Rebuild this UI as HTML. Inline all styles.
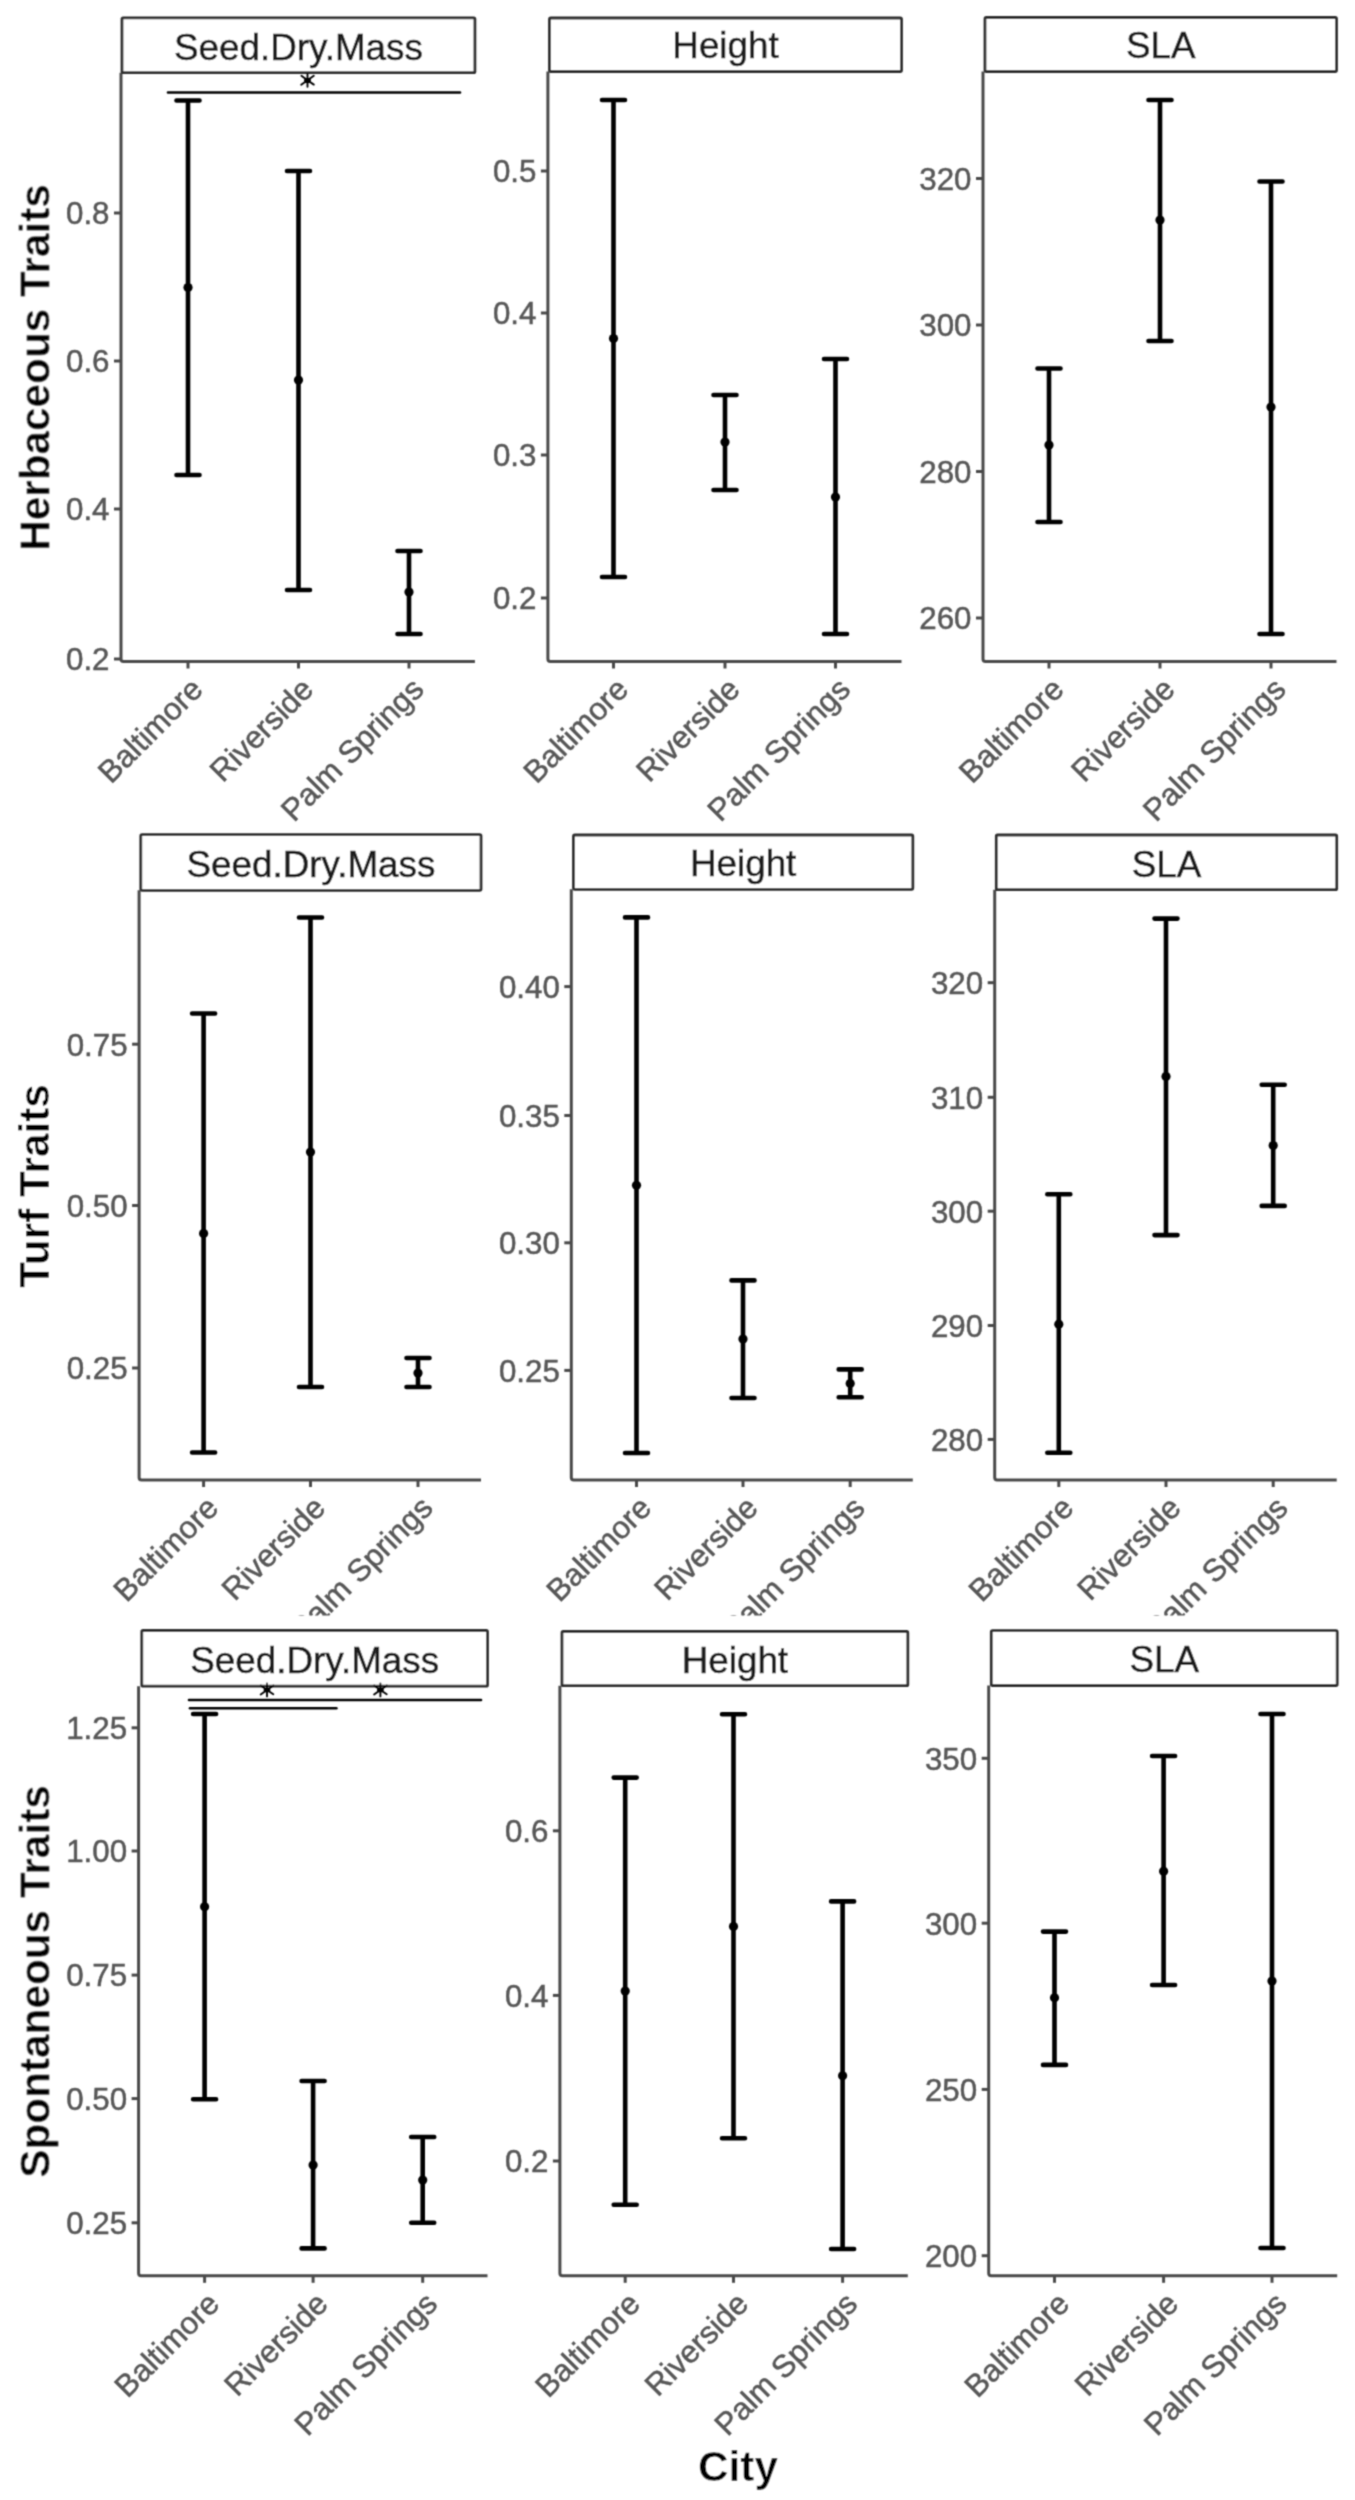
<!DOCTYPE html>
<html><head><meta charset="utf-8"><style>
html,body{margin:0;padding:0;background:#fff;}
body{width:1355px;height:2500px;overflow:hidden;}
svg{display:block;font-family:"Liberation Sans", sans-serif;}
</style></head><body>
<svg width="1355" height="2500" viewBox="0 0 1355 2500"><rect width="1355" height="2500" fill="#fff"/><defs><filter id="soft" x="0" y="0" width="1355" height="2500" filterUnits="userSpaceOnUse"><feConvolveMatrix order="3" kernelMatrix="1 3 1 3 9 3 1 3 1" divisor="25" edgeMode="duplicate"/></filter></defs><g filter="url(#soft)"><defs><clipPath id="row2clip"><rect x="0" y="0" width="1355" height="1615.5"/></clipPath></defs><g><path d="M121,72.7L121,659.0Q121,661.5 123.5,661.5L474.9,661.5" stroke="#4a4a4a" stroke-width="3" fill="none" stroke-linejoin="round"/><line x1="114" y1="213" x2="121" y2="213" stroke="#4a4a4a" stroke-width="3"/><text x="109.5" y="224.3" text-anchor="end" font-size="31.3" fill="#575757" stroke="#575757" stroke-width="0.5">0.8</text><line x1="114" y1="361" x2="121" y2="361" stroke="#4a4a4a" stroke-width="3"/><text x="109.5" y="372.3" text-anchor="end" font-size="31.3" fill="#575757" stroke="#575757" stroke-width="0.5">0.6</text><line x1="114" y1="509" x2="121" y2="509" stroke="#4a4a4a" stroke-width="3"/><text x="109.5" y="520.3" text-anchor="end" font-size="31.3" fill="#575757" stroke="#575757" stroke-width="0.5">0.4</text><line x1="114" y1="659" x2="121" y2="659" stroke="#4a4a4a" stroke-width="3"/><text x="109.5" y="670.3" text-anchor="end" font-size="31.3" fill="#575757" stroke="#575757" stroke-width="0.5">0.2</text><line x1="188" y1="661.5" x2="188" y2="668.5" stroke="#4a4a4a" stroke-width="3"/><g><text x="204.5" y="691.3" text-anchor="end" font-size="31.3" fill="#575757" stroke="#575757" stroke-width="0.5" transform="rotate(-45 204.5 691.3)">Baltimore</text></g><line x1="298.5" y1="661.5" x2="298.5" y2="668.5" stroke="#4a4a4a" stroke-width="3"/><g><text x="315.0" y="691.3" text-anchor="end" font-size="31.3" fill="#575757" stroke="#575757" stroke-width="0.5" transform="rotate(-45 315.0 691.3)">Riverside</text></g><line x1="409" y1="661.5" x2="409" y2="668.5" stroke="#4a4a4a" stroke-width="3"/><g><text x="425.5" y="691.3" text-anchor="end" font-size="31.3" fill="#575757" stroke="#575757" stroke-width="0.5" transform="rotate(-45 425.5 691.3)">Palm Springs</text></g><path d="M188,100.5L188,475M176.5,100.5L199.5,100.5M176.5,475L199.5,475" stroke="#000" stroke-width="4.6" stroke-linecap="round" fill="none"/><circle cx="188" cy="287.5" r="4.6" fill="#000"/><path d="M298.5,171L298.5,590M287.0,171L310.0,171M287.0,590L310.0,590" stroke="#000" stroke-width="4.6" stroke-linecap="round" fill="none"/><circle cx="298.5" cy="380" r="4.6" fill="#000"/><path d="M409,551L409,634M397.5,551L420.5,551M397.5,634L420.5,634" stroke="#000" stroke-width="4.6" stroke-linecap="round" fill="none"/><circle cx="409" cy="592" r="4.6" fill="#000"/><rect x="122" y="17.9" width="352.9" height="54.800000000000004" rx="1.2" fill="#fff" stroke="#2e2e2e" stroke-width="2.8"/><text x="298.45" y="59.5" text-anchor="middle" font-size="36.8" fill="#1a1a1a" stroke="#1a1a1a" stroke-width="0.5">Seed.Dry.Mass</text></g><g><path d="M547.9,71.5L547.9,659.0Q547.9,661.5 550.4,661.5L901.5,661.5" stroke="#4a4a4a" stroke-width="3" fill="none" stroke-linejoin="round"/><line x1="540.9" y1="171" x2="547.9" y2="171" stroke="#4a4a4a" stroke-width="3"/><text x="536.4" y="182.3" text-anchor="end" font-size="31.3" fill="#575757" stroke="#575757" stroke-width="0.5">0.5</text><line x1="540.9" y1="313" x2="547.9" y2="313" stroke="#4a4a4a" stroke-width="3"/><text x="536.4" y="324.3" text-anchor="end" font-size="31.3" fill="#575757" stroke="#575757" stroke-width="0.5">0.4</text><line x1="540.9" y1="455" x2="547.9" y2="455" stroke="#4a4a4a" stroke-width="3"/><text x="536.4" y="466.3" text-anchor="end" font-size="31.3" fill="#575757" stroke="#575757" stroke-width="0.5">0.3</text><line x1="540.9" y1="598" x2="547.9" y2="598" stroke="#4a4a4a" stroke-width="3"/><text x="536.4" y="609.3" text-anchor="end" font-size="31.3" fill="#575757" stroke="#575757" stroke-width="0.5">0.2</text><line x1="613.5" y1="661.5" x2="613.5" y2="668.5" stroke="#4a4a4a" stroke-width="3"/><g><text x="630.0" y="691.3" text-anchor="end" font-size="31.3" fill="#575757" stroke="#575757" stroke-width="0.5" transform="rotate(-45 630.0 691.3)">Baltimore</text></g><line x1="725" y1="661.5" x2="725" y2="668.5" stroke="#4a4a4a" stroke-width="3"/><g><text x="741.5" y="691.3" text-anchor="end" font-size="31.3" fill="#575757" stroke="#575757" stroke-width="0.5" transform="rotate(-45 741.5 691.3)">Riverside</text></g><line x1="835.5" y1="661.5" x2="835.5" y2="668.5" stroke="#4a4a4a" stroke-width="3"/><g><text x="852.0" y="691.3" text-anchor="end" font-size="31.3" fill="#575757" stroke="#575757" stroke-width="0.5" transform="rotate(-45 852.0 691.3)">Palm Springs</text></g><path d="M613.5,100L613.5,577M602.0,100L625.0,100M602.0,577L625.0,577" stroke="#000" stroke-width="4.6" stroke-linecap="round" fill="none"/><circle cx="613.5" cy="338.5" r="4.6" fill="#000"/><path d="M725,395L725,490M713.5,395L736.5,395M713.5,490L736.5,490" stroke="#000" stroke-width="4.6" stroke-linecap="round" fill="none"/><circle cx="725" cy="442" r="4.6" fill="#000"/><path d="M835.5,359L835.5,634M824.0,359L847.0,359M824.0,634L847.0,634" stroke="#000" stroke-width="4.6" stroke-linecap="round" fill="none"/><circle cx="835.5" cy="497" r="4.6" fill="#000"/><rect x="549.5" y="18" width="352.0" height="53.5" rx="1.2" fill="#fff" stroke="#2e2e2e" stroke-width="2.8"/><text x="725.5" y="58.3" text-anchor="middle" font-size="36.8" fill="#1a1a1a" stroke="#1a1a1a" stroke-width="0.5">Height</text></g><g><path d="M983,71.5L983,659.0Q983,661.5 985.5,661.5L1336.5,661.5" stroke="#4a4a4a" stroke-width="3" fill="none" stroke-linejoin="round"/><line x1="976" y1="178.5" x2="983" y2="178.5" stroke="#4a4a4a" stroke-width="3"/><text x="971.5" y="189.8" text-anchor="end" font-size="31.3" fill="#575757" stroke="#575757" stroke-width="0.5">320</text><line x1="976" y1="325" x2="983" y2="325" stroke="#4a4a4a" stroke-width="3"/><text x="971.5" y="336.3" text-anchor="end" font-size="31.3" fill="#575757" stroke="#575757" stroke-width="0.5">300</text><line x1="976" y1="471.5" x2="983" y2="471.5" stroke="#4a4a4a" stroke-width="3"/><text x="971.5" y="482.8" text-anchor="end" font-size="31.3" fill="#575757" stroke="#575757" stroke-width="0.5">280</text><line x1="976" y1="618" x2="983" y2="618" stroke="#4a4a4a" stroke-width="3"/><text x="971.5" y="629.3" text-anchor="end" font-size="31.3" fill="#575757" stroke="#575757" stroke-width="0.5">260</text><line x1="1049" y1="661.5" x2="1049" y2="668.5" stroke="#4a4a4a" stroke-width="3"/><g><text x="1065.5" y="691.3" text-anchor="end" font-size="31.3" fill="#575757" stroke="#575757" stroke-width="0.5" transform="rotate(-45 1065.5 691.3)">Baltimore</text></g><line x1="1160" y1="661.5" x2="1160" y2="668.5" stroke="#4a4a4a" stroke-width="3"/><g><text x="1176.5" y="691.3" text-anchor="end" font-size="31.3" fill="#575757" stroke="#575757" stroke-width="0.5" transform="rotate(-45 1176.5 691.3)">Riverside</text></g><line x1="1271" y1="661.5" x2="1271" y2="668.5" stroke="#4a4a4a" stroke-width="3"/><g><text x="1287.5" y="691.3" text-anchor="end" font-size="31.3" fill="#575757" stroke="#575757" stroke-width="0.5" transform="rotate(-45 1287.5 691.3)">Palm Springs</text></g><path d="M1049,368.5L1049,522M1037.5,368.5L1060.5,368.5M1037.5,522L1060.5,522" stroke="#000" stroke-width="4.6" stroke-linecap="round" fill="none"/><circle cx="1049" cy="445" r="4.6" fill="#000"/><path d="M1160,100L1160,341M1148.5,100L1171.5,100M1148.5,341L1171.5,341" stroke="#000" stroke-width="4.6" stroke-linecap="round" fill="none"/><circle cx="1160" cy="220" r="4.6" fill="#000"/><path d="M1271,181.5L1271,634M1259.5,181.5L1282.5,181.5M1259.5,634L1282.5,634" stroke="#000" stroke-width="4.6" stroke-linecap="round" fill="none"/><circle cx="1271" cy="407" r="4.6" fill="#000"/><rect x="985" y="17.5" width="351.5" height="54.0" rx="1.2" fill="#fff" stroke="#2e2e2e" stroke-width="2.8"/><text x="1160.75" y="58.3" text-anchor="middle" font-size="36.8" fill="#1a1a1a" stroke="#1a1a1a" stroke-width="0.5">SLA</text></g><g><path d="M139.1,890.3L139.1,1477.5Q139.1,1480 141.6,1480L481,1480" stroke="#4a4a4a" stroke-width="3" fill="none" stroke-linejoin="round"/><line x1="132.1" y1="1044.2" x2="139.1" y2="1044.2" stroke="#4a4a4a" stroke-width="3"/><text x="127.6" y="1055.5" text-anchor="end" font-size="31.3" fill="#575757" stroke="#575757" stroke-width="0.5">0.75</text><line x1="132.1" y1="1205.5" x2="139.1" y2="1205.5" stroke="#4a4a4a" stroke-width="3"/><text x="127.6" y="1216.8" text-anchor="end" font-size="31.3" fill="#575757" stroke="#575757" stroke-width="0.5">0.50</text><line x1="132.1" y1="1368" x2="139.1" y2="1368" stroke="#4a4a4a" stroke-width="3"/><text x="127.6" y="1379.3" text-anchor="end" font-size="31.3" fill="#575757" stroke="#575757" stroke-width="0.5">0.25</text><line x1="203.6" y1="1480" x2="203.6" y2="1487" stroke="#4a4a4a" stroke-width="3"/><g clip-path="url(#row2clip)"><text x="220.1" y="1509.8" text-anchor="end" font-size="31.3" fill="#575757" stroke="#575757" stroke-width="0.5" transform="rotate(-45 220.1 1509.8)">Baltimore</text></g><line x1="310.5" y1="1480" x2="310.5" y2="1487" stroke="#4a4a4a" stroke-width="3"/><g clip-path="url(#row2clip)"><text x="327.0" y="1509.8" text-anchor="end" font-size="31.3" fill="#575757" stroke="#575757" stroke-width="0.5" transform="rotate(-45 327.0 1509.8)">Riverside</text></g><line x1="418" y1="1480" x2="418" y2="1487" stroke="#4a4a4a" stroke-width="3"/><g clip-path="url(#row2clip)"><text x="434.5" y="1509.8" text-anchor="end" font-size="31.3" fill="#575757" stroke="#575757" stroke-width="0.5" transform="rotate(-45 434.5 1509.8)">Palm Springs</text></g><path d="M203.6,1013.5L203.6,1452.5M192.1,1013.5L215.1,1013.5M192.1,1452.5L215.1,1452.5" stroke="#000" stroke-width="4.6" stroke-linecap="round" fill="none"/><circle cx="203.6" cy="1233.4" r="4.6" fill="#000"/><path d="M310.5,917.5L310.5,1387M299.0,917.5L322.0,917.5M299.0,1387L322.0,1387" stroke="#000" stroke-width="4.6" stroke-linecap="round" fill="none"/><circle cx="310.5" cy="1152" r="4.6" fill="#000"/><path d="M418,1358L418,1387M406.5,1358L429.5,1358M406.5,1387L429.5,1387" stroke="#000" stroke-width="4.6" stroke-linecap="round" fill="none"/><circle cx="418" cy="1373" r="4.6" fill="#000"/><rect x="140.8" y="834.7" width="340.2" height="55.59999999999991" rx="1.2" fill="#fff" stroke="#2e2e2e" stroke-width="2.8"/><text x="310.9" y="877.0999999999999" text-anchor="middle" font-size="36.8" fill="#1a1a1a" stroke="#1a1a1a" stroke-width="0.5">Seed.Dry.Mass</text></g><g><path d="M571.3,889.3L571.3,1477.5Q571.3,1480 573.8,1480L912.8,1480" stroke="#4a4a4a" stroke-width="3" fill="none" stroke-linejoin="round"/><line x1="564.3" y1="986.6" x2="571.3" y2="986.6" stroke="#4a4a4a" stroke-width="3"/><text x="559.8" y="997.9" text-anchor="end" font-size="31.3" fill="#575757" stroke="#575757" stroke-width="0.5">0.40</text><line x1="564.3" y1="1115.5" x2="571.3" y2="1115.5" stroke="#4a4a4a" stroke-width="3"/><text x="559.8" y="1126.8" text-anchor="end" font-size="31.3" fill="#575757" stroke="#575757" stroke-width="0.5">0.35</text><line x1="564.3" y1="1242.8" x2="571.3" y2="1242.8" stroke="#4a4a4a" stroke-width="3"/><text x="559.8" y="1254.1" text-anchor="end" font-size="31.3" fill="#575757" stroke="#575757" stroke-width="0.5">0.30</text><line x1="564.3" y1="1370.4" x2="571.3" y2="1370.4" stroke="#4a4a4a" stroke-width="3"/><text x="559.8" y="1381.7" text-anchor="end" font-size="31.3" fill="#575757" stroke="#575757" stroke-width="0.5">0.25</text><line x1="636.5" y1="1480" x2="636.5" y2="1487" stroke="#4a4a4a" stroke-width="3"/><g clip-path="url(#row2clip)"><text x="653.0" y="1509.8" text-anchor="end" font-size="31.3" fill="#575757" stroke="#575757" stroke-width="0.5" transform="rotate(-45 653.0 1509.8)">Baltimore</text></g><line x1="743" y1="1480" x2="743" y2="1487" stroke="#4a4a4a" stroke-width="3"/><g clip-path="url(#row2clip)"><text x="759.5" y="1509.8" text-anchor="end" font-size="31.3" fill="#575757" stroke="#575757" stroke-width="0.5" transform="rotate(-45 759.5 1509.8)">Riverside</text></g><line x1="850.2" y1="1480" x2="850.2" y2="1487" stroke="#4a4a4a" stroke-width="3"/><g clip-path="url(#row2clip)"><text x="866.7" y="1509.8" text-anchor="end" font-size="31.3" fill="#575757" stroke="#575757" stroke-width="0.5" transform="rotate(-45 866.7 1509.8)">Palm Springs</text></g><path d="M636.5,917.4L636.5,1453M625.0,917.4L648.0,917.4M625.0,1453L648.0,1453" stroke="#000" stroke-width="4.6" stroke-linecap="round" fill="none"/><circle cx="636.5" cy="1185.3" r="4.6" fill="#000"/><path d="M743,1280.4L743,1398M731.5,1280.4L754.5,1280.4M731.5,1398L754.5,1398" stroke="#000" stroke-width="4.6" stroke-linecap="round" fill="none"/><circle cx="743" cy="1339" r="4.6" fill="#000"/><path d="M850.2,1369.4L850.2,1397.3M838.7,1369.4L861.7,1369.4M838.7,1397.3L861.7,1397.3" stroke="#000" stroke-width="4.6" stroke-linecap="round" fill="none"/><circle cx="850.2" cy="1383.4" r="4.6" fill="#000"/><rect x="573.5" y="835" width="339.29999999999995" height="54.299999999999955" rx="1.2" fill="#fff" stroke="#2e2e2e" stroke-width="2.8"/><text x="743.15" y="876.0999999999999" text-anchor="middle" font-size="36.8" fill="#1a1a1a" stroke="#1a1a1a" stroke-width="0.5">Height</text></g><g><path d="M994.7,889.7L994.7,1477.5Q994.7,1480 997.2,1480L1336.7,1480" stroke="#4a4a4a" stroke-width="3" fill="none" stroke-linejoin="round"/><line x1="987.7" y1="982.7" x2="994.7" y2="982.7" stroke="#4a4a4a" stroke-width="3"/><text x="983.2" y="994.0" text-anchor="end" font-size="31.3" fill="#575757" stroke="#575757" stroke-width="0.5">320</text><line x1="987.7" y1="1097.3" x2="994.7" y2="1097.3" stroke="#4a4a4a" stroke-width="3"/><text x="983.2" y="1108.6" text-anchor="end" font-size="31.3" fill="#575757" stroke="#575757" stroke-width="0.5">310</text><line x1="987.7" y1="1211.2" x2="994.7" y2="1211.2" stroke="#4a4a4a" stroke-width="3"/><text x="983.2" y="1222.5" text-anchor="end" font-size="31.3" fill="#575757" stroke="#575757" stroke-width="0.5">300</text><line x1="987.7" y1="1325.5" x2="994.7" y2="1325.5" stroke="#4a4a4a" stroke-width="3"/><text x="983.2" y="1336.8" text-anchor="end" font-size="31.3" fill="#575757" stroke="#575757" stroke-width="0.5">290</text><line x1="987.7" y1="1439.4" x2="994.7" y2="1439.4" stroke="#4a4a4a" stroke-width="3"/><text x="983.2" y="1450.7" text-anchor="end" font-size="31.3" fill="#575757" stroke="#575757" stroke-width="0.5">280</text><line x1="1058.8" y1="1480" x2="1058.8" y2="1487" stroke="#4a4a4a" stroke-width="3"/><g clip-path="url(#row2clip)"><text x="1075.3" y="1509.8" text-anchor="end" font-size="31.3" fill="#575757" stroke="#575757" stroke-width="0.5" transform="rotate(-45 1075.3 1509.8)">Baltimore</text></g><line x1="1166" y1="1480" x2="1166" y2="1487" stroke="#4a4a4a" stroke-width="3"/><g clip-path="url(#row2clip)"><text x="1182.5" y="1509.8" text-anchor="end" font-size="31.3" fill="#575757" stroke="#575757" stroke-width="0.5" transform="rotate(-45 1182.5 1509.8)">Riverside</text></g><line x1="1273.2" y1="1480" x2="1273.2" y2="1487" stroke="#4a4a4a" stroke-width="3"/><g clip-path="url(#row2clip)"><text x="1289.7" y="1509.8" text-anchor="end" font-size="31.3" fill="#575757" stroke="#575757" stroke-width="0.5" transform="rotate(-45 1289.7 1509.8)">Palm Springs</text></g><path d="M1058.8,1194.3L1058.8,1452.7M1047.3,1194.3L1070.3,1194.3M1047.3,1452.7L1070.3,1452.7" stroke="#000" stroke-width="4.6" stroke-linecap="round" fill="none"/><circle cx="1058.8" cy="1324.2" r="4.6" fill="#000"/><path d="M1166,918.6L1166,1235.1M1154.5,918.6L1177.5,918.6M1154.5,1235.1L1177.5,1235.1" stroke="#000" stroke-width="4.6" stroke-linecap="round" fill="none"/><circle cx="1166" cy="1076.4" r="4.6" fill="#000"/><path d="M1273.2,1084.7L1273.2,1205.9M1261.7,1084.7L1284.7,1084.7M1261.7,1205.9L1284.7,1205.9" stroke="#000" stroke-width="4.6" stroke-linecap="round" fill="none"/><circle cx="1273.2" cy="1145.5" r="4.6" fill="#000"/><rect x="996.3" y="835" width="340.4000000000001" height="54.700000000000045" rx="1.2" fill="#fff" stroke="#2e2e2e" stroke-width="2.8"/><text x="1166.5" y="876.5" text-anchor="middle" font-size="36.8" fill="#1a1a1a" stroke="#1a1a1a" stroke-width="0.5">SLA</text></g><g><path d="M138.6,1686.2L138.6,2273.3Q138.6,2275.8 141.1,2275.8L487.5,2275.8" stroke="#4a4a4a" stroke-width="3" fill="none" stroke-linejoin="round"/><line x1="131.6" y1="1727.8" x2="138.6" y2="1727.8" stroke="#4a4a4a" stroke-width="3"/><text x="127.1" y="1739.1" text-anchor="end" font-size="31.3" fill="#575757" stroke="#575757" stroke-width="0.5">1.25</text><line x1="131.6" y1="1851" x2="138.6" y2="1851" stroke="#4a4a4a" stroke-width="3"/><text x="127.1" y="1862.3" text-anchor="end" font-size="31.3" fill="#575757" stroke="#575757" stroke-width="0.5">1.00</text><line x1="131.6" y1="1975.1" x2="138.6" y2="1975.1" stroke="#4a4a4a" stroke-width="3"/><text x="127.1" y="1986.3999999999999" text-anchor="end" font-size="31.3" fill="#575757" stroke="#575757" stroke-width="0.5">0.75</text><line x1="131.6" y1="2098.6" x2="138.6" y2="2098.6" stroke="#4a4a4a" stroke-width="3"/><text x="127.1" y="2109.9" text-anchor="end" font-size="31.3" fill="#575757" stroke="#575757" stroke-width="0.5">0.50</text><line x1="131.6" y1="2222.8" x2="138.6" y2="2222.8" stroke="#4a4a4a" stroke-width="3"/><text x="127.1" y="2234.1000000000004" text-anchor="end" font-size="31.3" fill="#575757" stroke="#575757" stroke-width="0.5">0.25</text><line x1="204.6" y1="2275.8" x2="204.6" y2="2282.8" stroke="#4a4a4a" stroke-width="3"/><g><text x="221.1" y="2305.6000000000004" text-anchor="end" font-size="31.3" fill="#575757" stroke="#575757" stroke-width="0.5" transform="rotate(-45 221.1 2305.6000000000004)">Baltimore</text></g><line x1="313.1" y1="2275.8" x2="313.1" y2="2282.8" stroke="#4a4a4a" stroke-width="3"/><g><text x="329.6" y="2305.6000000000004" text-anchor="end" font-size="31.3" fill="#575757" stroke="#575757" stroke-width="0.5" transform="rotate(-45 329.6 2305.6000000000004)">Riverside</text></g><line x1="422.7" y1="2275.8" x2="422.7" y2="2282.8" stroke="#4a4a4a" stroke-width="3"/><g><text x="439.2" y="2305.6000000000004" text-anchor="end" font-size="31.3" fill="#575757" stroke="#575757" stroke-width="0.5" transform="rotate(-45 439.2 2305.6000000000004)">Palm Springs</text></g><path d="M204.6,1714L204.6,2099.3M193.1,1714L216.1,1714M193.1,2099.3L216.1,2099.3" stroke="#000" stroke-width="4.6" stroke-linecap="round" fill="none"/><circle cx="204.6" cy="1906.8" r="4.6" fill="#000"/><path d="M313.1,2081L313.1,2248.4M301.6,2081L324.6,2081M301.6,2248.4L324.6,2248.4" stroke="#000" stroke-width="4.6" stroke-linecap="round" fill="none"/><circle cx="313.1" cy="2165" r="4.6" fill="#000"/><path d="M422.7,2137L422.7,2222.8M411.2,2137L434.2,2137M411.2,2222.8L434.2,2222.8" stroke="#000" stroke-width="4.6" stroke-linecap="round" fill="none"/><circle cx="422.7" cy="2180" r="4.6" fill="#000"/><rect x="141.8" y="1630.5" width="345.7" height="55.700000000000045" rx="1.2" fill="#fff" stroke="#2e2e2e" stroke-width="2.8"/><text x="314.65" y="1673.0" text-anchor="middle" font-size="36.8" fill="#1a1a1a" stroke="#1a1a1a" stroke-width="0.5">Seed.Dry.Mass</text></g><g><path d="M559.9,1685.7L559.9,2273.3Q559.9,2275.8 562.4,2275.8L907.8,2275.8" stroke="#4a4a4a" stroke-width="3" fill="none" stroke-linejoin="round"/><line x1="552.9" y1="1830.8" x2="559.9" y2="1830.8" stroke="#4a4a4a" stroke-width="3"/><text x="548.4" y="1842.1" text-anchor="end" font-size="31.3" fill="#575757" stroke="#575757" stroke-width="0.5">0.6</text><line x1="552.9" y1="1995.4" x2="559.9" y2="1995.4" stroke="#4a4a4a" stroke-width="3"/><text x="548.4" y="2006.7" text-anchor="end" font-size="31.3" fill="#575757" stroke="#575757" stroke-width="0.5">0.4</text><line x1="552.9" y1="2161" x2="559.9" y2="2161" stroke="#4a4a4a" stroke-width="3"/><text x="548.4" y="2172.3" text-anchor="end" font-size="31.3" fill="#575757" stroke="#575757" stroke-width="0.5">0.2</text><line x1="625.2" y1="2275.8" x2="625.2" y2="2282.8" stroke="#4a4a4a" stroke-width="3"/><g><text x="641.7" y="2305.6000000000004" text-anchor="end" font-size="31.3" fill="#575757" stroke="#575757" stroke-width="0.5" transform="rotate(-45 641.7 2305.6000000000004)">Baltimore</text></g><line x1="733.5" y1="2275.8" x2="733.5" y2="2282.8" stroke="#4a4a4a" stroke-width="3"/><g><text x="750.0" y="2305.6000000000004" text-anchor="end" font-size="31.3" fill="#575757" stroke="#575757" stroke-width="0.5" transform="rotate(-45 750.0 2305.6000000000004)">Riverside</text></g><line x1="842.6" y1="2275.8" x2="842.6" y2="2282.8" stroke="#4a4a4a" stroke-width="3"/><g><text x="859.1" y="2305.6000000000004" text-anchor="end" font-size="31.3" fill="#575757" stroke="#575757" stroke-width="0.5" transform="rotate(-45 859.1 2305.6000000000004)">Palm Springs</text></g><path d="M625.2,1777.6L625.2,2204.7M613.7,1777.6L636.7,1777.6M613.7,2204.7L636.7,2204.7" stroke="#000" stroke-width="4.6" stroke-linecap="round" fill="none"/><circle cx="625.2" cy="1991.1" r="4.6" fill="#000"/><path d="M733.5,1714.3L733.5,2138.2M722.0,1714.3L745.0,1714.3M722.0,2138.2L745.0,2138.2" stroke="#000" stroke-width="4.6" stroke-linecap="round" fill="none"/><circle cx="733.5" cy="1926.4" r="4.6" fill="#000"/><path d="M842.6,1901.4L842.6,2249M831.1,1901.4L854.1,1901.4M831.1,2249L854.1,2249" stroke="#000" stroke-width="4.6" stroke-linecap="round" fill="none"/><circle cx="842.6" cy="2075.8" r="4.6" fill="#000"/><rect x="562" y="1631.5" width="345.79999999999995" height="54.200000000000045" rx="1.2" fill="#fff" stroke="#2e2e2e" stroke-width="2.8"/><text x="734.9" y="1672.5" text-anchor="middle" font-size="36.8" fill="#1a1a1a" stroke="#1a1a1a" stroke-width="0.5">Height</text></g><g><path d="M988.7,1685.5L988.7,2273.3Q988.7,2275.8 991.2,2275.8L1337.2,2275.8" stroke="#4a4a4a" stroke-width="3" fill="none" stroke-linejoin="round"/><line x1="981.7" y1="1758.3" x2="988.7" y2="1758.3" stroke="#4a4a4a" stroke-width="3"/><text x="977.2" y="1769.6" text-anchor="end" font-size="31.3" fill="#575757" stroke="#575757" stroke-width="0.5">350</text><line x1="981.7" y1="1923.2" x2="988.7" y2="1923.2" stroke="#4a4a4a" stroke-width="3"/><text x="977.2" y="1934.5" text-anchor="end" font-size="31.3" fill="#575757" stroke="#575757" stroke-width="0.5">300</text><line x1="981.7" y1="2089.4" x2="988.7" y2="2089.4" stroke="#4a4a4a" stroke-width="3"/><text x="977.2" y="2100.7000000000003" text-anchor="end" font-size="31.3" fill="#575757" stroke="#575757" stroke-width="0.5">250</text><line x1="981.7" y1="2255.7" x2="988.7" y2="2255.7" stroke="#4a4a4a" stroke-width="3"/><text x="977.2" y="2267.0" text-anchor="end" font-size="31.3" fill="#575757" stroke="#575757" stroke-width="0.5">200</text><line x1="1054.5" y1="2275.8" x2="1054.5" y2="2282.8" stroke="#4a4a4a" stroke-width="3"/><g><text x="1071.0" y="2305.6000000000004" text-anchor="end" font-size="31.3" fill="#575757" stroke="#575757" stroke-width="0.5" transform="rotate(-45 1071.0 2305.6000000000004)">Baltimore</text></g><line x1="1163.6" y1="2275.8" x2="1163.6" y2="2282.8" stroke="#4a4a4a" stroke-width="3"/><g><text x="1180.1" y="2305.6000000000004" text-anchor="end" font-size="31.3" fill="#575757" stroke="#575757" stroke-width="0.5" transform="rotate(-45 1180.1 2305.6000000000004)">Riverside</text></g><line x1="1272" y1="2275.8" x2="1272" y2="2282.8" stroke="#4a4a4a" stroke-width="3"/><g><text x="1288.5" y="2305.6000000000004" text-anchor="end" font-size="31.3" fill="#575757" stroke="#575757" stroke-width="0.5" transform="rotate(-45 1288.5 2305.6000000000004)">Palm Springs</text></g><path d="M1054.5,1931.6L1054.5,2064.9M1043.0,1931.6L1066.0,1931.6M1043.0,2064.9L1066.0,2064.9" stroke="#000" stroke-width="4.6" stroke-linecap="round" fill="none"/><circle cx="1054.5" cy="1997.8" r="4.6" fill="#000"/><path d="M1163.6,1756L1163.6,1985M1152.1,1756L1175.1,1756M1152.1,1985L1175.1,1985" stroke="#000" stroke-width="4.6" stroke-linecap="round" fill="none"/><circle cx="1163.6" cy="1871.2" r="4.6" fill="#000"/><path d="M1272,1714L1272,2248M1260.5,1714L1283.5,1714M1260.5,2248L1283.5,2248" stroke="#000" stroke-width="4.6" stroke-linecap="round" fill="none"/><circle cx="1272" cy="1981" r="4.6" fill="#000"/><rect x="991.3" y="1630.7" width="345.9000000000001" height="54.799999999999955" rx="1.2" fill="#fff" stroke="#2e2e2e" stroke-width="2.8"/><text x="1164.25" y="1672.3" text-anchor="middle" font-size="36.8" fill="#1a1a1a" stroke="#1a1a1a" stroke-width="0.5">SLA</text></g><line x1="168" y1="92.5" x2="460" y2="92.5" stroke="#000" stroke-width="2.6" stroke-linecap="round"/><path d="M307.5,80.3L307.5,73.7M307.5,80.3L307.5,86.7M307.5,80.3L313.8,75.7M307.5,80.3L301.4,75.7M307.5,80.3L313.8,84.6M307.5,80.3L301.2,84.8" stroke="#000" stroke-width="1.9" stroke-linecap="round" fill="none"/><ellipse cx="307.5" cy="80.3" rx="3.4" ry="2.3" fill="#000"/><line x1="189" y1="1700" x2="481" y2="1700" stroke="#000" stroke-width="2.6" stroke-linecap="round"/><line x1="190" y1="1708.2" x2="336.4" y2="1708.2" stroke="#000" stroke-width="2.6" stroke-linecap="round"/><path d="M267.0,1690.0L267.0,1683.4M267.0,1690.0L267.0,1696.4M267.0,1690.0L273.3,1685.4M267.0,1690.0L260.9,1685.4M267.0,1690.0L273.3,1694.3M267.0,1690.0L260.7,1694.5" stroke="#000" stroke-width="1.9" stroke-linecap="round" fill="none"/><ellipse cx="267" cy="1690" rx="3.4" ry="2.3" fill="#000"/><path d="M380.4,1690.0L380.4,1683.4M380.4,1690.0L380.4,1696.4M380.4,1690.0L386.7,1685.4M380.4,1690.0L374.3,1685.4M380.4,1690.0L386.7,1694.3M380.4,1690.0L374.1,1694.5" stroke="#000" stroke-width="1.9" stroke-linecap="round" fill="none"/><ellipse cx="380.4" cy="1690" rx="3.4" ry="2.3" fill="#000"/><text x="49" y="367.5" text-anchor="middle" font-size="42.3" font-weight="bold" fill="#000" stroke="#fff" stroke-width="0.45" transform="rotate(-90 49 367.5)">Herbaceous Traits</text><text x="49" y="1186" text-anchor="middle" font-size="42.3" font-weight="bold" fill="#000" stroke="#fff" stroke-width="0.45" transform="rotate(-90 49 1186)">Turf Traits</text><text x="49" y="1981.5" text-anchor="middle" font-size="42.3" font-weight="bold" fill="#000" stroke="#fff" stroke-width="0.45" transform="rotate(-90 49 1981.5)">Spontaneous Traits</text><text x="738" y="2480.5" text-anchor="middle" font-size="42.3" font-weight="bold" fill="#000" stroke="#fff" stroke-width="0.45">City</text></g></svg>
</body></html>
